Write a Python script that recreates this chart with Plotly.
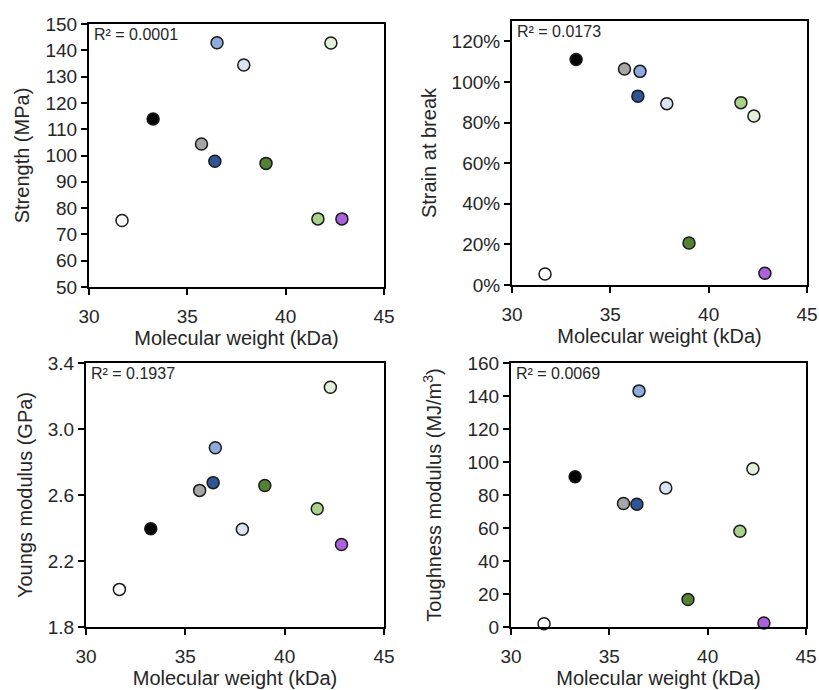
import plotly.graph_objects as go

# Data
mw = [31.68, 33.26, 35.72, 36.40, 36.51, 37.87, 39.00, 41.64, 42.30, 42.86]
colors = ["#FFFFFF", "#000000", "#A6A6A6", "#2F5597", "#8FAADC", "#DAE3F3",
          "#548235", "#A9D18E", "#E2F0D9", "#A962DC"]
strength = [75.3, 113.9, 104.4, 97.8, 142.9, 134.4, 97.0, 75.9, 142.8, 75.9]
strain = [0.054, 1.11, 1.064, 0.930, 1.052, 0.893, 0.207, 0.898, 0.832, 0.058]
youngs = [2.028, 2.396, 2.628, 2.675, 2.886, 2.392, 2.658, 2.517, 3.253, 2.300]
toughness = [2.0, 91.1, 74.8, 74.4, 143.1, 84.2, 16.7, 58.0, 95.9, 2.4]
r2_labels = ["R² = 0.0001", "R² = 0.0173", "R² = 0.1937", "R² = 0.0069"]
y_titles = ["Strength (MPa)", "Strain at break", "Youngs modulus (GPa)",
            "Toughness modulus (MJ/m<sup>3</sup>)"]
x_title = "Molecular weight (kDa)"

W, H = 819, 690
# pixel boxes: (left, right, top, bottom)
boxes = [(89, 384, 24, 287), (512, 807, 21, 285), (86, 384, 363, 627), (511, 806, 363, 627)]
yranges = [[50, 150], [0, 1.3], [1.8, 3.4], [0, 160]]
ydticks = [10, 0.2, 0.4, 20]
yformats = ["d", ".0%", ".1f", "d"]
ystandoffs = [10, 10, 10, 20]
series = [strength, strain, youngs, toughness]

FONT = "Liberation Sans, Arial, sans-serif"
TXT = "#262626"
fig = go.Figure()
for i, ys in enumerate(series):
    n = "" if i == 0 else str(i + 1)
    fig.add_trace(go.Scatter(
        x=mw, y=ys, mode="markers", xaxis="x" + n, yaxis="y" + n,
        marker=dict(size=12, color=colors, line=dict(color="#1a1a1a", width=1.5)),
        showlegend=False, cliponaxis=False))
    l, r, t, b = boxes[i]
    common = dict(showline=True, linecolor="black", linewidth=2, mirror=True,
                  ticks="outside", ticklen=6, tickwidth=1.5, tickcolor="black",
                  showgrid=False, zeroline=False, automargin=False,
                  tickfont=dict(family=FONT, size=19, color=TXT))
    fig.layout["xaxis" + n] = dict(
        domain=[l / W, r / W], anchor="y" + n, range=[30, 45], dtick=5, tick0=30,
        ticklabelstandoff=5,
        title=dict(text=x_title, font=dict(family=FONT, size=20, color=TXT), standoff=4),
        **common)
    fig.layout["yaxis" + n] = dict(
        domain=[1 - b / H, 1 - t / H], anchor="x" + n, range=yranges[i],
        dtick=ydticks[i], tick0=yranges[i][0], tickformat=yformats[i],
        title=dict(text=y_titles[i], font=dict(family=FONT, size=20, color=TXT),
                   standoff=ystandoffs[i]),
        **common)
    fig.add_annotation(xref=("x" + n + " domain"), yref=("y" + n + " domain"),
                       x=0.01, y=1.0, xanchor="left", yanchor="top",
                       text=r2_labels[i], showarrow=False,
                       font=dict(family=FONT, size=16, color=TXT))

fig.update_layout(width=W, height=H, margin=dict(l=0, r=0, t=0, b=0, autoexpand=False),
                  plot_bgcolor="white", paper_bgcolor="white")
fig.write_html("out.html", config={"displayModeBar": False},
               post_script="document.body.style.margin='0';document.body.style.overflow='hidden';")
